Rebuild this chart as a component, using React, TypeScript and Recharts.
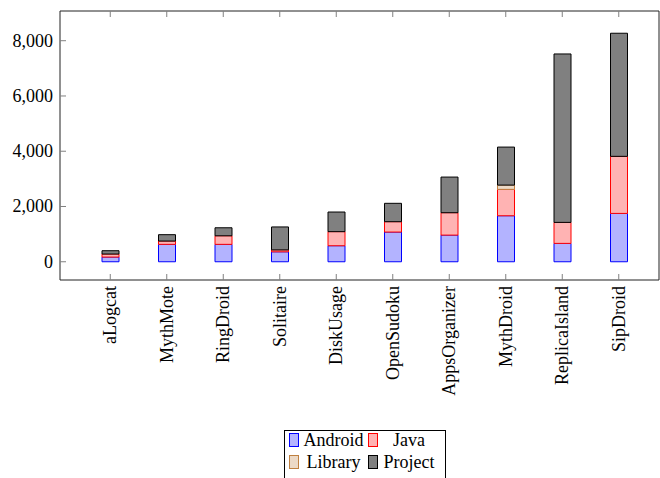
import React from 'react';
import { BarChart, Bar, XAxis, YAxis } from 'recharts';

const categories = ['aLogcat', 'MythMote', 'RingDroid', 'Solitaire', 'DiskUsage', 'OpenSudoku', 'AppsOrganizer', 'MythDroid', 'ReplicaIsland', 'SipDroid'];
const android = [170, 630, 630, 360, 580, 1075, 965, 1665, 665, 1750];
const java = [110, 120, 310, 70, 510, 375, 810, 955, 760, 2065];
const library = [0, 0, 0, 0, 0, 0, 0, 155, 0, 0];
const project = [120, 230, 290, 830, 710, 665, 1290, 1375, 6095, 4455];
const yTicks = [0, 2000, 4000, 6000, 8000];

const series = [
  { key: 'Android', values: android, fill: '#b3b3ff', stroke: '#0000ff' },
  { key: 'Java', values: java, fill: '#ffb3b3', stroke: '#ff0000' },
  { key: 'Library', values: library, fill: '#ecd9c6', stroke: '#bf8040' },
  { key: 'Project', values: project, fill: '#808080', stroke: '#000000' },
];

const data = categories.map((name, i) => {
  const row: any = { name };
  series.forEach((s) => { row[s.key] = s.values[i]; });
  return row;
});

const FONT = '"Liberation Serif", "Times New Roman", serif';
const TICK_COLOR = '#808080';

const BottomTick = (props: any) => {
  const { x, y, payload } = props;
  return (
    <g>
      <line x1={x} y1={y} x2={x} y2={y - 6} stroke={TICK_COLOR} strokeWidth={1} />
      <text
        x={x}
        y={y + 6}
        transform={`rotate(-90, ${x}, ${y + 6})`}
        textAnchor="end"
        dominantBaseline="central"
        fontFamily={FONT}
        fontSize={18}
        fill="#000"
      >
        {payload.value}
      </text>
    </g>
  );
};

const TopTick = (props: any) => {
  const { x, y } = props;
  return <line x1={x} y1={y} x2={x} y2={y + 6} stroke={TICK_COLOR} strokeWidth={1} />;
};

const LeftTick = (props: any) => {
  const { x, y, payload } = props;
  return (
    <g>
      <line x1={x} y1={y} x2={x + 6} y2={y} stroke={TICK_COLOR} strokeWidth={1} />
      <text x={x - 7} y={y} textAnchor="end" dominantBaseline="central" fontFamily={FONT} fontSize={18} fill="#000">
        {Number(payload.value).toLocaleString('en-US')}
      </text>
    </g>
  );
};

const legendCols = [333.5, 409];
const legendRows = [440, 462];

export default function App() {
  return (
    <div style={{ position: 'absolute', left: 0, top: 0, width: 660, height: 478, background: '#fff', overflow: 'hidden' }}>
      <BarChart
        width={660}
        height={478}
        data={data}
        margin={{ top: 10, right: 0, bottom: 98, left: 10 }}
        barSize={17}
        barGap={0}
      >
        <XAxis
          xAxisId="bottom"
          dataKey="name"
          orientation="bottom"
          height={100}
          padding={{ left: 22, right: 12 }}
          interval={0}
          tickSize={0}
          tickMargin={0}
          tickLine={false}
          axisLine={{ stroke: '#222', strokeWidth: 1 }}
          tick={<BottomTick />}
        />
        <XAxis
          xAxisId="top"
          dataKey="name"
          orientation="top"
          height={1}
          padding={{ left: 22, right: 12 }}
          interval={0}
          tickSize={0}
          tickMargin={0}
          tickLine={false}
          axisLine={{ stroke: '#222', strokeWidth: 1 }}
          tick={<TopTick />}
        />
        <YAxis
          yAxisId="left"
          width={50}
          domain={[-660, 9075]}
          ticks={yTicks}
          allowDataOverflow
          tickSize={0}
          tickMargin={0}
          tickLine={false}
          axisLine={{ stroke: '#222', strokeWidth: 1 }}
          tick={<LeftTick />}
        />
        <YAxis
          yAxisId="right"
          orientation="right"
          width={1}
          domain={[-660, 9075]}
          ticks={yTicks}
          allowDataOverflow
          tick={false}
          tickLine={false}
          axisLine={{ stroke: '#222', strokeWidth: 1 }}
        />
        {series.map((s) => (
          <Bar
            key={s.key}
            dataKey={s.key}
            stackId="a"
            xAxisId="bottom"
            yAxisId="left"
            fill={s.fill}
            stroke={s.stroke}
            strokeWidth={1}
            isAnimationActive={false}
          />
        ))}
      </BarChart>
      <svg width={660} height={478} style={{ position: 'absolute', left: 0, top: 0, pointerEvents: 'none' }}>
        <rect x={284.5} y={430.5} width={161} height={60} fill="#fff" stroke="#000" strokeWidth={1} />
        {series.map((s, i) => {
          const col = i % 2;
          const row = Math.floor(i / 2);
          const sx = col === 0 ? 289.5 : 368.5;
          const cy = legendRows[row];
          return (
            <g key={s.key}>
              <rect x={sx} y={cy - 6.5} width={9} height={13} fill={s.fill} stroke={s.stroke} strokeWidth={1} />
              <text x={legendCols[col]} y={cy} textAnchor="middle" dominantBaseline="central" fontFamily={FONT} fontSize={18} fill="#000">
                {s.key}
              </text>
            </g>
          );
        })}
      </svg>
    </div>
  );
}
